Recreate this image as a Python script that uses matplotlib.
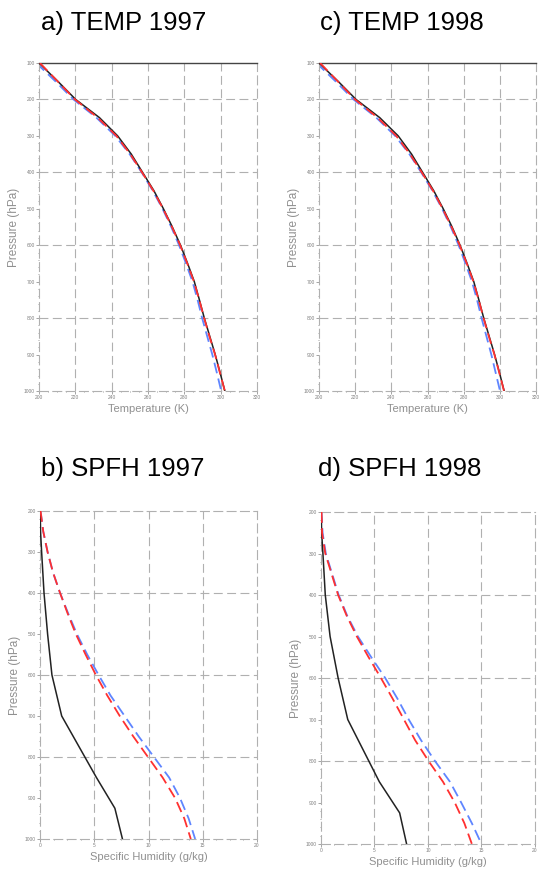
import numpy as np
import matplotlib
matplotlib.use("Agg")
import matplotlib.pyplot as plt

plt.rcParams['font.family'] = ['Liberation Sans', 'DejaVu Sans']

# pressure levels (hPa)
lev_t = list(range(100, 1001, 50))
lev_q = list(range(200, 1001, 50))
lev_obs = [200, 250, 300, 400, 500, 600, 700, 850, 925, 1000]

# temperature (K)
t97_obs = [200.0, 210.3, 220.2, 233.3, 243.3, 250.8, 257.0, 263.2, 268.5, 273.4,
           277.9, 281.8, 285.5, 288.3, 291.0, 294.0, 297.0, 299.7, 302.3]
t97_red = [200.5, 210.2, 219.8, 232.3, 242.6, 250.2, 256.7, 262.9, 268.3, 273.2,
           277.7, 281.6, 285.3, 288.2, 290.9, 293.8, 296.9, 299.6, 302.3]
t97_blu = [198.5, 209.0, 219.0, 231.6, 242.0, 249.9, 256.5, 262.6, 268.0, 272.8,
           277.1, 280.9, 284.5, 287.3, 289.8, 292.6, 295.4, 297.9, 300.3]
t98_obs = [200.0, 210.5, 220.5, 233.6, 243.8, 251.2, 257.3, 263.4, 268.7, 273.6,
           278.0, 281.9, 285.6, 288.4, 291.1, 294.1, 297.1, 299.8, 302.4]
t98_red = [200.6, 210.3, 219.9, 232.4, 242.7, 250.3, 256.8, 263.0, 268.4, 273.3,
           277.8, 281.7, 285.4, 288.3, 291.0, 293.9, 297.0, 299.7, 302.3]
t98_blu = [198.6, 209.1, 219.1, 231.7, 242.1, 250.0, 256.5, 262.7, 268.1, 272.9,
           277.2, 281.0, 284.6, 287.4, 289.9, 292.6, 295.3, 297.7, 300.1]

# specific humidity (g/kg)
q97_obs = [0.02, 0.05, 0.15, 0.37, 0.7, 1.1, 2.0, 5.2, 6.9, 7.6]
q97_red = [0.05, 0.3, 0.7, 1.2, 1.85, 2.55, 3.3, 4.2, 5.15, 6.2, 7.35, 8.6, 9.95,
           11.3, 12.45, 13.3, 13.9]
q97_blu = [0.05, 0.3, 0.7, 1.2, 1.85, 2.6, 3.4, 4.35, 5.4, 6.5, 7.8, 9.1, 10.5,
           11.9, 12.9, 13.7, 14.3]
q98_obs = [0.02, 0.06, 0.18, 0.4, 0.85, 1.6, 2.5, 5.45, 7.35, 8.0]
q98_red = [0.05, 0.1, 0.4, 1.0, 1.6, 2.4, 3.35, 4.45, 5.6, 6.7, 7.75, 8.8, 10.05,
           11.4, 12.5, 13.4, 14.1]
q98_blu = [0.05, 0.15, 0.45, 1.05, 1.65, 2.45, 3.45, 4.7, 6.0, 7.15, 8.2, 9.35, 10.65,
           12.05, 13.1, 14.1, 15.0]

W, H = 539, 871
fig = plt.figure(figsize=(W / 100, H / 100), dpi=100)

grid_c = '#b0b0b0'
lab_c = '#909090'


def box(l, t, r, b):
    return [l / W, 1 - b / H, (r - l) / W, (b - t) / H]


def style(ax, xlim, ylim, xticks, yticks, xgrid, ygrid, xlabel, solid_top):
    ax.set_xlim(*xlim)
    ax.set_ylim(ylim[1], ylim[0])
    ax.set_xticks(xticks)
    ax.set_yticks(yticks)
    ax.set_xticks(np.arange(xlim[0], xlim[1] + 0.01, (xticks[1] - xticks[0]) / 4), minor=True)
    ax.set_yticks(np.arange(ylim[0], ylim[1] + 0.01, 20), minor=True)
    ax.tick_params(which='both', direction='out', colors='#808080', labelsize=3.5,
                   length=2, width=0.5, pad=1)
    ax.tick_params(which='minor', length=1)
    for v in xgrid:
        ax.axvline(v, color=grid_c, lw=0.8, ls=(0, (8, 4)), zorder=0)
    for v in ygrid:
        ax.axhline(v, color=grid_c, lw=0.8, ls=(0, (8, 4)), zorder=0)
    for s in ['left', 'right', 'bottom', 'top']:
        ax.spines[s].set_color(grid_c)
        ax.spines[s].set_linewidth(0.8)
        ax.spines[s].set_linestyle((0, (8, 4)))
    if solid_top:
        ax.spines['top'].set_color('#444444')
        ax.spines['top'].set_linestyle('-')
        ax.spines['top'].set_linewidth(1.0)
    ax.set_xlabel(xlabel, color=lab_c, fontsize=8, labelpad=3)
    ax.set_ylabel('Pressure (hPa)', color=lab_c, fontsize=8.5, labelpad=3)


def profiles(ax, lev_o, lev_m, obs, red, blu):
    ax.plot(blu, lev_m, color='#5f85ff', lw=1.3, ls=(0, (6, 3)), zorder=2)
    ax.plot(obs, lev_o, color='#222222', lw=1.1, zorder=3)
    ax.plot(red, lev_m, color='#ff3030', lw=1.3, ls=(0, (6, 3)), zorder=4)


t_xt = [200, 220, 240, 260, 280, 300, 320]
t_yt = list(range(100, 1001, 100))
q_xt = [0, 5, 10, 15, 20]
q_yt = list(range(200, 1001, 100))

axa = fig.add_axes(box(39, 63, 257, 391))
profiles(axa, lev_t, lev_t, t97_obs, t97_red, t97_blu)
style(axa, (200, 320), (100, 1000), t_xt, t_yt, [220, 240, 260, 280, 300],
      [200, 400, 600, 800], 'Temperature (K)', True)

axc = fig.add_axes(box(319, 63, 536, 391))
profiles(axc, lev_t, lev_t, t98_obs, t98_red, t98_blu)
style(axc, (200, 320), (100, 1000), t_xt, t_yt, [220, 240, 260, 280, 300],
      [200, 400, 600, 800], 'Temperature (K)', True)

axb = fig.add_axes(box(40, 511, 257, 839))
profiles(axb, lev_obs, lev_q, q97_obs, q97_red, q97_blu)
style(axb, (0, 20), (200, 1000), q_xt, q_yt, [5, 10, 15],
      [400, 600, 800], 'Specific Humidity (g/kg)', False)

axd = fig.add_axes(box(321, 512, 535, 844))
profiles(axd, lev_obs, lev_q, q98_obs, q98_red, q98_blu)
style(axd, (0, 20), (200, 1000), q_xt, q_yt, [5, 10, 15],
      [400, 600, 800], 'Specific Humidity (g/kg)', False)

for x, y, s in [(124, 23, 'a) TEMP 1997'), (402, 23, 'c) TEMP 1998'),
                (123, 469, 'b) SPFH 1997'), (400, 469, 'd) SPFH 1998')]:
    fig.text(x / W, 1 - y / H, s, ha='center', va='center', fontsize=18.5, color='black')

fig.savefig('out.png', dpi=100)
